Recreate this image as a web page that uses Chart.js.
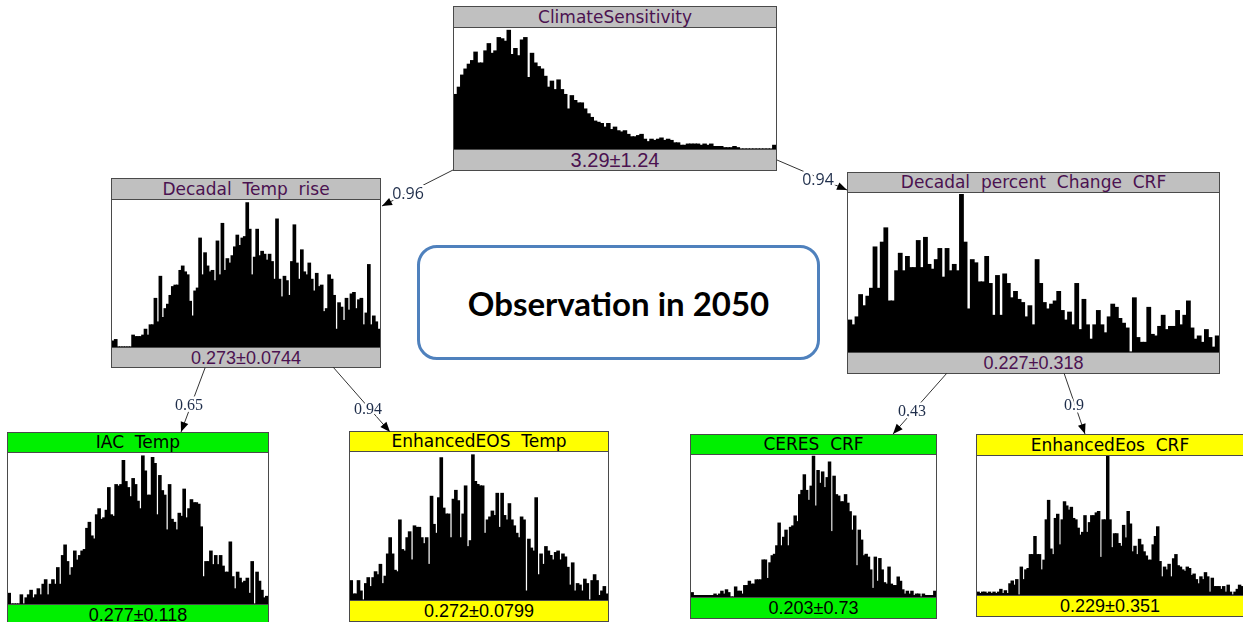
<!DOCTYPE html>
<html>
<head>
<meta charset="utf-8">
<script src="https://cdn.jsdelivr.net/npm/chart.js@4.4.1/dist/chart.umd.min.js"></script>
<style>
  html, body { margin: 0; padding: 0; background: #fff; }
  #stage { position: relative; width: 1243px; height: 622px; overflow: hidden; }
  .node { position: absolute; box-sizing: border-box; border: 1px solid #4a4a4a; background: #fff; display: flex; flex-direction: column; }
  .node .head, .node .foot { flex: none; text-align: center; white-space: pre; overflow: hidden; }
  .node .head { border-bottom: 1px solid #4a4a4a; font: 17px 'DejaVu Sans', sans-serif; }
  .node .foot { border-top: 1px solid #4a4a4a; font: 18px 'Liberation Sans', Arial, sans-serif; }
  .node canvas { display: block; }
  #note { position: absolute; left: 417px; top: 245px; width: 403px; height: 115px; box-sizing: border-box;
    border: 3px solid #4f81bd; border-radius: 20px; background: #fff;
    display: flex; align-items: center; justify-content: center;
    font: bold 33px Lato, 'Open Sans', sans-serif; color: #000; }
  svg { position: absolute; left: 0; top: 0; }
</style>
</head>
<body>
<div id="stage">
  <div id="note">Observation in 2050</div>
  <svg id="links" width="1243" height="622"></svg>
</div>
<script>
// histogram bins (relative heights, 0-100)
const climateSensitivity = [45, 51, 61, 66, 70, 73, 80, 71, 71, 81, 87, 79, 81, 92, 91, 89, 98, 78, 83, 77,
  90, 92, 59, 79, 71, 68, 66, 60, 51, 56, 49, 57, 49, 45, 33, 44, 40, 38, 38, 33, 29, 26, 23, 22, 21, 18, 21,
  16, 18, 15, 14, 15, 12, 10, 10, 11, 12, 8, 6, 8, 7, 8, 9, 7, 8, 7, 5, 5, 3, 3, 4, 4, 4, 4, 3, 4, 3, 4, 2, 2,
  2, 1, 1, 1, 2, 1, 0, 0, 0, 0, 0, 0, 0, 0, 0, 0, 3]
const decadalTempRise = [4, 5, 0, 0, 0, 0, 0, 0, 8, 7, 7, 7, 8, 12, 8, 15, 15, 33, 17, 48, 20, 26, 29, 35, 41,
  42, 42, 52, 55, 51, 49, 31, 21, 38, 40, 74, 49, 64, 55, 51, 52, 45, 72, 49, 84, 52, 60, 57, 62, 68, 76, 69,
  74, 75, 98, 80, 49, 61, 80, 62, 65, 63, 59, 63, 58, 46, 87, 46, 34, 48, 45, 35, 58, 83, 57, 46, 66, 51, 49,
  57, 46, 38, 50, 41, 42, 24, 26, 49, 46, 35, 12, 30, 27, 18, 33, 25, 36, 37, 26, 32, 33, 15, 23, 56, 15, 21, 17, 12]
const decadalCrfChange = [20, 17, 22, 36, 29, 35, 40, 66, 40, 69, 78, 32, 32, 51, 62, 51, 60, 53, 53, 70, 53,
  72, 55, 52, 58, 65, 47, 65, 51, 55, 51, 99, 69, 27, 58, 56, 44, 44, 60, 43, 23, 48, 23, 49, 43, 34, 38, 33,
  31, 22, 29, 17, 58, 43, 31, 27, 30, 32, 38, 26, 20, 25, 17, 43, 14, 33, 17, 8, 17, 26, 17, 12, 22, 30, 28,
  21, 18, 15, 0, 34, 9, 6, 6, 28, 11, 10, 16, 23, 14, 16, 16, 26, 17, 23, 32, 15, 8, 10, 6, 14, 9, 3, 10]
const iacTemp = [7, 0, 0, 0, 0, 6, 0, 4, 6, 9, 4, 6, 10, 6, 13, 16, 6, 13, 16, 13, 24, 13, 32, 39, 28, 19, 24,
  35, 29, 32, 35, 36, 50, 54, 45, 43, 59, 63, 56, 57, 62, 77, 59, 58, 79, 78, 79, 95, 81, 77, 71, 83, 79, 68,
  63, 98, 88, 72, 72, 97, 93, 59, 85, 75, 72, 49, 79, 56, 54, 49, 60, 58, 76, 57, 63, 69, 67, 67, 66, 51, 18,
  28, 28, 35, 26, 32, 26, 32, 25, 21, 21, 41, 18, 10, 21, 17, 14, 15, 17, 7, 28, 0, 21, 15, 9, 4, 5]
const enhancedEosTemp = [13, 4, 4, 13, 6, 0, 11, 15, 9, 15, 19, 17, 24, 11, 16, 31, 42, 31, 20, 19, 54, 34, 33,
  42, 46, 27, 50, 49, 49, 42, 38, 42, 24, 70, 51, 45, 69, 96, 62, 58, 58, 42, 68, 74, 67, 42, 58, 77, 36, 40,
  98, 80, 78, 77, 77, 45, 54, 56, 60, 57, 72, 49, 72, 57, 54, 65, 54, 50, 45, 42, 56, 54, 6, 41, 35, 33, 69,
  17, 31, 24, 36, 33, 30, 27, 32, 33, 27, 31, 29, 22, 10, 25, 6, 11, 10, 6, 14, 11, 0, 13, 17, 13, 3, 6, 9, 4]
const ceresCrf = [3, 1, 1, 1, 1, 1, 1, 1, 1, 1, 2, 1, 2, 4, 2, 5, 3, 0, 0, 7, 4, 4, 2, 8, 8, 11, 9, 9, 12, 12,
  12, 26, 26, 13, 24, 29, 30, 36, 52, 36, 42, 47, 36, 49, 50, 57, 53, 72, 75, 86, 75, 68, 78, 99, 64, 89, 80,
  88, 77, 84, 95, 46, 85, 72, 71, 67, 67, 72, 66, 60, 47, 57, 22, 47, 40, 29, 30, 28, 19, 6, 28, 11, 27, 19,
  10, 9, 21, 9, 8, 8, 14, 11, 5, 2, 4, 2, 4, 1, 2, 2, 0, 2, 1, 1, 1, 1, 4]
const enhancedEosCrf = [2, 1, 2, 2, 1, 2, 1, 2, 1, 2, 4, 1, 3, 1, 8, 10, 7, 11, 0, 20, 11, 18, 19, 29, 29, 42,
  29, 29, 18, 25, 54, 68, 33, 29, 55, 58, 36, 54, 67, 64, 61, 63, 55, 54, 48, 43, 45, 57, 45, 52, 57, 57, 59,
  60, 27, 54, 54, 100, 54, 34, 44, 44, 37, 35, 50, 41, 60, 51, 31, 35, 29, 40, 36, 31, 28, 25, 25, 36, 42, 49,
  24, 13, 20, 18, 22, 13, 26, 29, 21, 20, 18, 17, 20, 19, 14, 15, 11, 8, 13, 11, 16, 13, 2, 12, 6, 6, 6, 4, 6,
  2, 7, 2, 0, 2, 4, 7, 6]

const nodeTitles = ['ClimateSensitivity', 'Decadal  Temp  rise', 'Decadal  percent  Change  CRF', 'IAC  Temp',
  'EnhancedEOS  Temp', 'CERES  CRF', 'EnhancedEos  CRF']
const nodeSummaries = ['3.29±1.24', '0.273±0.0744', '0.227±0.318', '0.277±0.118', '0.272±0.0799',
  '0.203±0.73', '0.229±0.351']
const linkWeights = ['0.96', '0.94', '0.65', '0.94', '0.43', '0.9']

const nodeSeries = [climateSensitivity, decadalTempRise, decadalCrfChange, iacTemp, enhancedEosTemp, ceresCrf, enhancedEosCrf]

// box geometry and colours for each node
const grey = { fill: '#c0c0c0', text: '#4b1250' }
const green = { fill: '#00f000', text: '#000' }
const yellow = { fill: '#ffff00', text: '#000' }
const nodeBoxes = [
  { x: 453, y: 6, w: 324, h: 165, head: 20, foot: 20, look: grey, footSize: 20 },
  { x: 111, y: 178, w: 270, h: 190, head: 20, foot: 19, look: grey },
  { x: 847, y: 172, w: 373, h: 202, head: 19, foot: 20, look: grey },
  { x: 7, y: 432, w: 262, h: 194, head: 19, foot: 20, look: green },
  { x: 349, y: 431, w: 260, h: 191, head: 19, foot: 20, look: yellow },
  { x: 690, y: 434, w: 247, h: 185, head: 19, foot: 20, look: green },
  { x: 976, y: 434, w: 268, h: 183, head: 20, foot: 20, look: yellow },
]

// links: start, end (arrow tip), label centre, label font
const linkPaths = [
  { from: [453, 170], to: [382, 206], at: [408, 193], font: "16px 'Open Sans', sans-serif" },
  { from: [777, 160], to: [847, 190], at: [818, 179], font: "16px 'Open Sans', sans-serif" },
  { from: [205, 368], to: [181, 432], at: [189, 404], font: "16px 'Liberation Serif', serif" },
  { from: [333, 367], to: [390, 432], at: [368, 408], font: "16px 'Liberation Serif', serif" },
  { from: [947, 373], to: [893, 434], at: [912, 410], font: "16px 'Liberation Serif', serif" },
  { from: [1064, 373], to: [1085, 434], at: [1074, 404], font: "16px 'Liberation Serif', serif" },
]

const stage = document.getElementById('stage')

const drawHistogram = (canvas, values) => {
  new Chart(canvas.getContext('2d'), {
    type: 'bar',
    data: {
      labels: values.map((v, i) => i),
      datasets: [{
        data: values,
        backgroundColor: '#000',
        borderWidth: 0,
        inflateAmount: 0.6,
        barPercentage: 1,
        categoryPercentage: 1,
      }]
    },
    options: {
      responsive: false,
      animation: false,
      events: [],
      layout: { padding: 0 },
      plugins: { legend: { display: false }, tooltip: { enabled: false } },
      scales: {
        x: { display: false },
        y: { display: false, min: 0, max: 100 }
      }
    }
  })
}

nodeBoxes.forEach((box, k) => {
  const node = document.createElement('div')
  node.className = 'node'
  Object.assign(node.style, { left: box.x + 'px', top: box.y + 'px', width: box.w + 'px', height: box.h + 'px' })

  const head = document.createElement('div')
  head.className = 'head'
  head.textContent = nodeTitles[k]
  Object.assign(head.style, { height: box.head + 'px', lineHeight: box.head + 'px', background: box.look.fill, color: box.look.text })

  const plotH = box.h - 2 - box.head - box.foot - 2
  const canvas = document.createElement('canvas')
  canvas.width = box.w - 2
  canvas.height = plotH

  const foot = document.createElement('div')
  foot.className = 'foot'
  foot.textContent = nodeSummaries[k]
  Object.assign(foot.style, { height: box.foot + 'px', lineHeight: (box.foot + 1) + 'px', background: box.look.fill, color: box.look.text })
  if (box.footSize) foot.style.fontSize = box.footSize + 'px'

  node.append(head, canvas, foot)
  stage.insertBefore(node, document.getElementById('links'))
  drawHistogram(canvas, nodeSeries[k])
})

// arrows between nodes
const svg = document.getElementById('links')
const ns = 'http://www.w3.org/2000/svg'
linkPaths.forEach((link, k) => {
  const [x1, y1] = link.from
  const [x2, y2] = link.to
  const line = document.createElementNS(ns, 'line')
  line.setAttribute('x1', x1); line.setAttribute('y1', y1)
  line.setAttribute('x2', x2); line.setAttribute('y2', y2)
  line.setAttribute('stroke', '#333'); line.setAttribute('stroke-width', '1')
  svg.appendChild(line)

  // arrow head
  const len = Math.hypot(x2 - x1, y2 - y1)
  const ux = (x2 - x1) / len, uy = (y2 - y1) / len
  const bx = x2 - ux * 10, by = y2 - uy * 10
  const head = document.createElementNS(ns, 'polygon')
  head.setAttribute('points', `${x2},${y2} ${bx - uy * 4},${by + ux * 4} ${bx + uy * 4},${by - ux * 4}`)
  head.setAttribute('fill', '#000')
  svg.appendChild(head)

  const text = document.createElementNS(ns, 'text')
  text.setAttribute('x', link.at[0]); text.setAttribute('y', link.at[1])
  text.setAttribute('text-anchor', 'middle'); text.setAttribute('dominant-baseline', 'central')
  text.setAttribute('fill', '#1e2d4a')
  text.setAttribute('stroke', '#fff'); text.setAttribute('stroke-width', '5'); text.setAttribute('paint-order', 'stroke')
  text.style.font = link.font
  text.textContent = linkWeights[k]
  svg.appendChild(text)
})
</script>
</body>
</html>
